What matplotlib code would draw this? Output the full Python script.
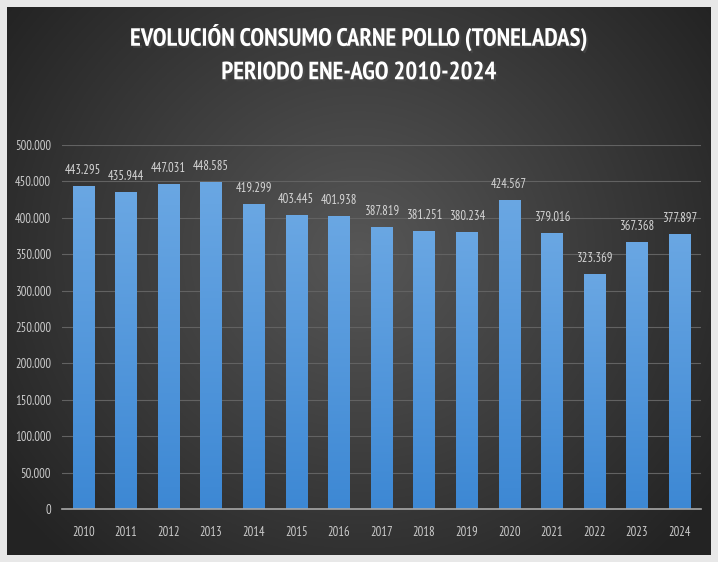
import numpy as np
import matplotlib
matplotlib.use("Agg")
import matplotlib.pyplot as plt
from matplotlib import patheffects as pe
from matplotlib.ticker import FuncFormatter

years = [str(y) for y in range(2010, 2025)]
toneladas = [443295, 435944, 447031, 448585, 419299, 403445, 401938, 387819,
             381251, 380234, 424567, 379016, 323369, 367368, 377897]
titulo = "EVOLUCIÓN CONSUMO CARNE POLLO (TONELADAS)\nPERIODO ENE-AGO 2010-2024"

plt.rcParams['font.family'] = ['PT Sans Narrow', 'DejaVu Sans']


def miles(v, pos=None):
    return f"{int(round(v)):,}".replace(",", ".")


fig = plt.figure(figsize=(7.18, 5.62), dpi=100)
fig.patch.set_facecolor('#e8e8e8')

# panel oscuro con degradado radial
bg = fig.add_axes([7 / 718, 7 / 562, 704 / 718, 548 / 562])
yy, xx = np.mgrid[0:1:300j, 0:1:400j]
r = np.sqrt(((xx - 0.5) / 0.62) ** 2 + ((yy - 0.45) / 0.75) ** 2)
g = np.clip(1 - r, 0, 1)
shade = 0.14 + 0.20 * g
bg.imshow(np.dstack([shade, shade, shade]), aspect='auto', extent=[0, 1, 0, 1])
bg.axis('off')

ax = fig.add_axes([62 / 718, (562 - 509) / 562, (701 - 62) / 718, (509 - 145) / 562])
ax.patch.set_alpha(0)
x = np.arange(len(years))
bars = ax.bar(x, toneladas, width=0.5, color='#4f95da', zorder=3)

# degradado vertical en cada barra
grad = np.linspace(0, 1, 256).reshape(-1, 1)
cm = matplotlib.colors.LinearSegmentedColormap.from_list('b', ['#3d88d4', '#6aa7e3'])
for b in bars:
    bx, w, h = b.get_x(), b.get_width(), b.get_height()
    im = ax.imshow(grad, cmap=cm, aspect='auto', origin='lower',
                   extent=[bx, bx + w, 0, h], zorder=3)
    im.set_clip_path(b)
    b.set_facecolor('none')

for xi, v in zip(x, toneladas):
    ax.annotate(miles(v), (xi, v), xytext=(0, 6.5), textcoords='offset points',
                ha='center', va='bottom', color='#d6d6d6', fontsize=9)

ax.set_xlim(-0.5, len(years) - 0.5)
ax.set_ylim(0, 500000)
ax.set_yticks(np.arange(0, 500001, 50000))
ax.yaxis.set_major_formatter(FuncFormatter(miles))
ax.set_xticks(x)
ax.set_xticklabels(years)
ax.grid(axis='y', color='#626262', linewidth=0.8, zorder=0)
for s in ['top', 'right', 'left']:
    ax.spines[s].set_visible(False)
ax.spines['bottom'].set_color('#a8a8a8')
ax.spines['bottom'].set_linewidth(1.2)
ax.spines['bottom'].set_zorder(4)
ax.tick_params(length=0, colors='#cccccc', labelsize=9)
ax.tick_params(axis='x', pad=12)
ax.tick_params(axis='y', pad=8)

fig.text(0.5, 1 - 54 / 562, titulo, ha='center', va='center', color='white',
         fontsize=18, fontweight='bold', linespacing=1.55,
         path_effects=[pe.withSimplePatchShadow(offset=(1.5, -1.5), alpha=0.6)])

fig.savefig('out.png', dpi=100, facecolor=fig.get_facecolor())
